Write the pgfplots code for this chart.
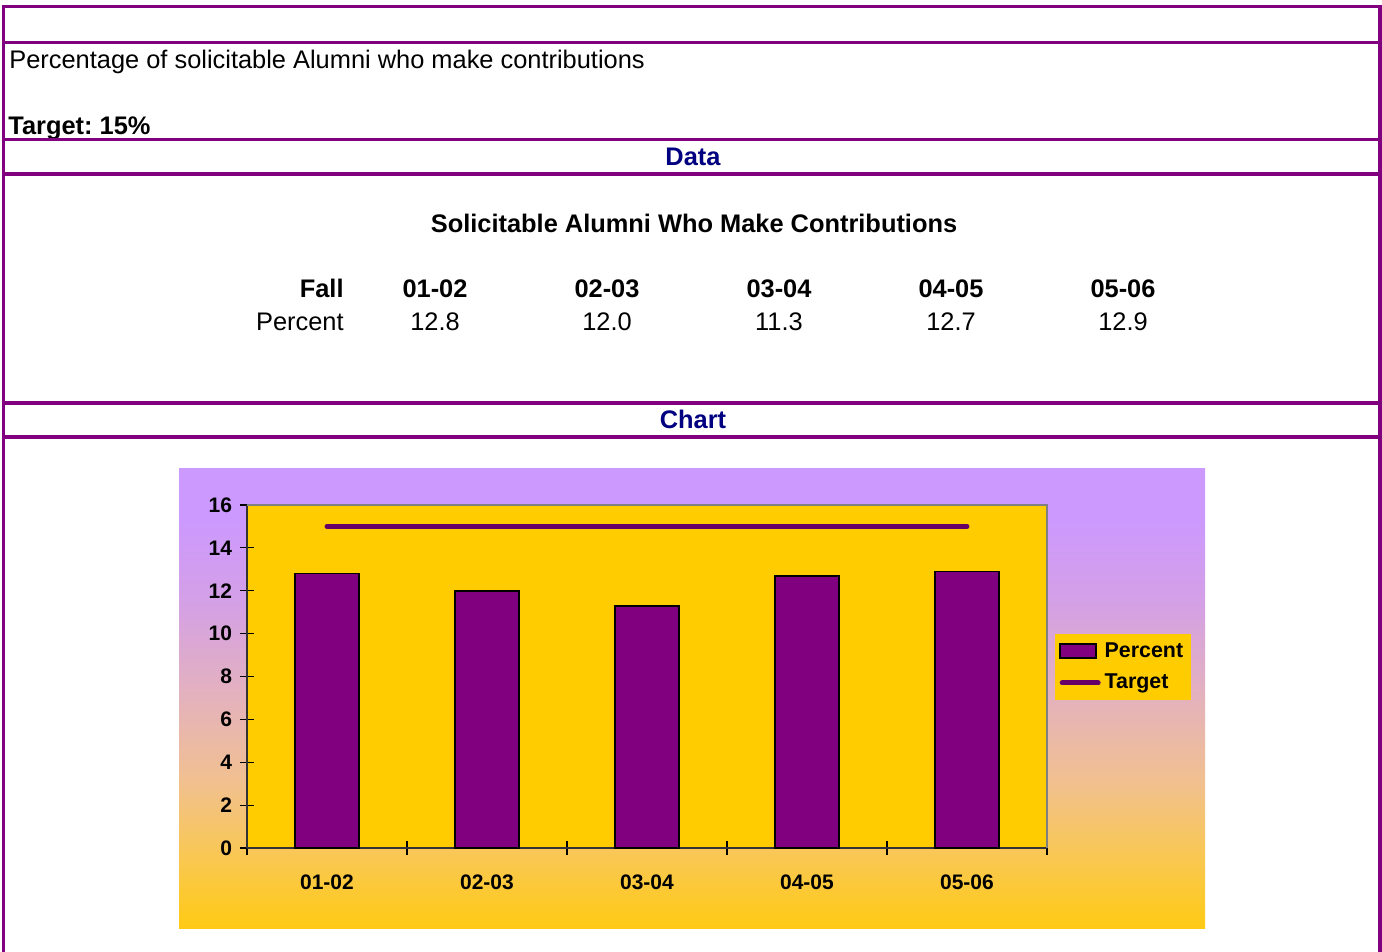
\documentclass[border=0pt]{standalone}
\usepackage{fontspec}
\setmainfont{Liberation Sans}
\usepackage{pgfplots}
\pgfplotsset{compat=1.18}
\definecolor{bpurple}{HTML}{800080}
\definecolor{navy}{HTML}{000080}
\definecolor{gold}{HTML}{FFCC00}
\definecolor{tpurple}{HTML}{660066}
\definecolor{axgray}{HTML}{808080}
\definecolor{g0}{HTML}{FFCA14}
\definecolor{g1}{HTML}{F9C850}
\definecolor{g2}{HTML}{F1C090}
\definecolor{g3}{HTML}{E4B2BC}
\definecolor{g4}{HTML}{D4A0E6}
\definecolor{g5}{HTML}{CC99FF}
\pgfdeclareverticalshading{chartbg}{100bp}{color(0bp)=(g0); color(25bp)=(g0); color(32.5bp)=(g1); color(41bp)=(g2); color(50bp)=(g3); color(60.5bp)=(g4); color(69.5bp)=(g5); color(100bp)=(g5)}
\newcommand{\txt}{\fontsize{12.7}{15}\selectfont}
\begin{document}
\frenchspacing
\begin{tikzpicture}
\begin{scope}[x=0.5pt,y=-0.5pt]
\useasboundingbox (0,0) rectangle (1382,952);
\fill[white] (0,0) rectangle (1382,952);
% chart background
\shade[shading=chartbg] (179,468) rectangle (1205,928);
\coordinate (plotSW) at (247,848);
% texts
\begin{scope}[every node/.style={inner sep=0pt, font=\txt}]
\node[anchor=base west] at (9,68.5) {Percentage of solicitable Alumni who make contributions};
\node[anchor=base west, font=\bfseries\txt] at (8,135) {Target: 15\%};
\node[anchor=base, text=navy, font=\bfseries\txt] at (693,166) {Data};
\node[anchor=base, text=navy, font=\bfseries\txt] at (693,429) {Chart};
\node[anchor=base, font=\bfseries\txt] at (694,232.5) {Solicitable Alumni Who Make Contributions};
\node[anchor=base east, font=\bfseries\txt] at (344,298) {Fall};
\node[anchor=base east] at (344,330) {Percent};
\foreach \xx/\hh/\vv in {435/01-02/12.8, 607/02-03/12.0, 779/03-04/11.3, 951/04-05/12.7, 1123/05-06/12.9}{
  \node[anchor=base, font=\bfseries\txt] at (\xx,298) {\hh};
  \node[anchor=base] at (\xx,330) {\vv};
}
\end{scope}
% purple grid lines
\begin{scope}[bpurple, line width=1.75pt]
\foreach \yy in {6.7,42.5,139.5,174,403,437}{
  \draw (2,\yy) -- (1382,\yy);
}
\draw (3.3,5) -- (3.3,952);
\draw (1380,5) -- (1380,952);
\end{scope}
\end{scope}
\begin{axis}[
  at={(plotSW)}, anchor=south west,
  scale only axis, width=400pt, height=171.5pt,
  xmin=-0.5, xmax=4.5, ymin=0, ymax=16,
  axis lines*=left,
  axis line style={black!80, line width=0.9pt},
  axis background/.style={fill=gold},
  xtick={-0.5,0.5,1.5,2.5,3.5,4.5},
  xticklabels={},
  extra x ticks={0,1,2,3,4},
  extra x tick labels={01-02,02-03,03-04,04-05,05-06},
  extra x tick style={major tick length=0pt},
  ytick={0,2,...,16},
  tick align=center,
  major tick length=7pt,
  tick style={black, line width=0.6pt},
  /pgf/number format/assume math mode=true,
  ticklabel style={font=\bfseries\fontsize{10.5}{12}\selectfont},
  yticklabel style={xshift=-0.5pt},
  xticklabel style={yshift=-10pt},
  legend style={at={(1.01,0.624)}, anchor=north west, fill=gold, draw=none,
    font=\bfseries\fontsize{10.7}{12}\selectfont, inner xsep=2pt, inner ysep=2pt, row sep=3pt},
  legend cell align=left,
  clip=false,
]
\addplot[ybar, bar width=32pt, fill=bpurple, draw=black, line width=0.8pt,
  legend image code/.code={\draw[fill=bpurple, draw=black, line width=0.8pt] (0pt,-3.5pt) rectangle (18pt,3.5pt);}]
  coordinates {(0,12.8) (1,12.0) (2,11.3) (3,12.7) (4,12.9)};
\addlegendentry{Percent}
\addplot[color=tpurple, line width=2.5pt, line cap=round, mark=none,
  legend image code/.code={\draw[color=tpurple, line width=2.5pt, line cap=round] (1pt,0pt) -- (19pt,0pt);}]
  coordinates {(0,15) (4,15)};
\addlegendentry{Target}
\draw[axgray, line width=1pt] (rel axis cs:0,1) -- (rel axis cs:1,1) -- (rel axis cs:1,0);
\end{axis}
\end{tikzpicture}
\end{document}
